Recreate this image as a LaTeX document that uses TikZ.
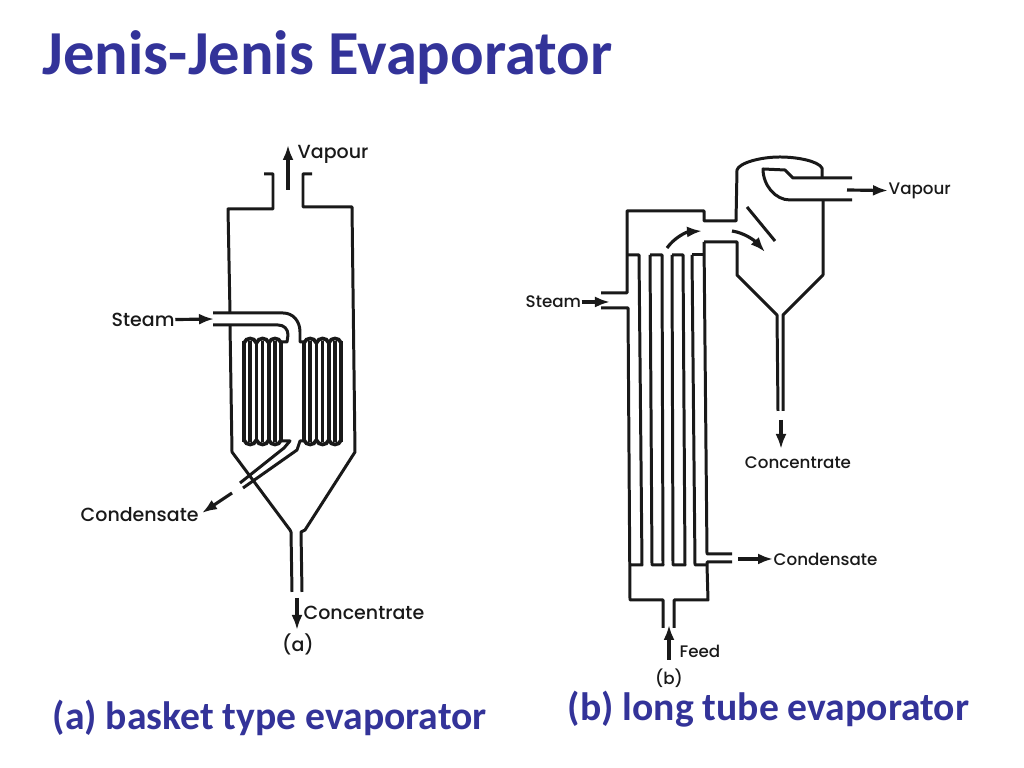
\documentclass[tikz,border=0pt]{standalone}
\usepackage{fontspec}
\setmainfont{Carlito}
\newfontfamily\labelfont{Poppins Medium}
\usepackage{xcolor}
\usetikzlibrary{calc, positioning, arrows.meta}
\definecolor{slideblue}{RGB}{51,51,153}
\definecolor{plantblack}{RGB}{25,25,25}
\tikzset{
    wallline/.style={line width=0.85pt, draw=plantblack, line join=round},
    coilline/.style={line width=1.05pt, draw=plantblack},
    flowarrow/.style={-{Latex[length=1.5mm,width=1.1mm]}, line width=0.9pt, draw=plantblack},
    partlabel/.style={font=\labelfont\fontsize{5.4}{7}\selectfont, text=plantblack, inner sep=0pt},
    smalllabel/.style={font=\labelfont\fontsize{4.75}{6}\selectfont, text=plantblack, inner sep=0pt},
    slidetitle/.style={font=\bfseries\fontsize{17.8}{20}\selectfont, text=slideblue, inner sep=0pt, anchor=west},
    slidecaption/.style={font=\bfseries\fontsize{11.27}{13}\selectfont, text=slideblue, inner sep=0pt, anchor=west}
}
\begin{document}
\begin{tikzpicture}[x=0.01cm,y=-0.01cm]
    \useasboundingbox (0,0) rectangle (1024,768);
    \node[slidetitle] (title) at (42,57) {Jenis-Jenis Evaporator};
    \node[slidecaption] (capa) at (52,717.5) {(a) basket type evaporator};
    \node[slidecaption] (capb) at (567,709.5) {(b) long tube evaporator};

    % basket type
    \draw[wallline] (264,174)--(273,174)--(273,209)--(228,209)--(230,313);
    \draw[wallline] (230,325)--(232,452)--(290,530)--(291,532)--(292,592);
    \draw[wallline] (312,174)--(303,174)--(303,207)--(352,207)--(355,452)--(305,530)--(301,532)--(302,592);
    \draw[wallline] (213,313)--(283,313) .. controls (293,313) and (300,321) .. (300,332)--(300,342)--(305,342);
    \draw[wallline] (213,325)--(278,325) .. controls (284,325) and (288,329) .. (288,335)--(287,342)--(281,342);
    \draw[wallline] (282,441)--(290,441)--(284,448)--(240,483);
    \draw[wallline] (305,441)--(300,441)--(297,450)--(243,488);
    \foreach \bank in {243,303} {
        \foreach \tube in {0,...,6}
            \draw[coilline] ({\bank+1+\tube*6.2},341)--({\bank+1+\tube*6.2},442);
        \foreach \loopno in {0,1,2} {
            \draw[coilline] ({\bank+1+\loopno*12.4},343) .. controls ({\bank+3+\loopno*12.4},337) and ({\bank+11.4+\loopno*12.4},337) .. ({\bank+13.4+\loopno*12.4},343);
            \draw[coilline] ({\bank+1+\loopno*12.4},440) .. controls ({\bank+3+\loopno*12.4},446) and ({\bank+11.4+\loopno*12.4},446) .. ({\bank+13.4+\loopno*12.4},440);
        }
    }

    \node[partlabel, anchor=west] (vapa) at (297,154) {Vapour};
    \node[partlabel, anchor=west] (steama) at (111,320) {Steam};
    \node[partlabel, anchor=west] (conda) at (80,515) {Condensate};
    \node[partlabel, anchor=west] (conca) at (303,613) {Concentrate};
    \node[partlabel] (marka) at (298,644) {(a)};
    \coordinate (vapatail) at (288,190);
    \coordinate (vapatip) at (288,145);
    \coordinate (steamatip) at (214,319);
    \coordinate (condatail) at (232,493);
    \coordinate (condatip) at (202,513);
    \coordinate (concatail) at (297,598);
    \coordinate (concatip) at (297,630);
    \draw[flowarrow] (vapatail)--(vapatip);
    \draw[flowarrow] (steama)--(steamatip);
    \draw[flowarrow] (condatail)--(condatip);
    \draw[flowarrow] (concatail)--(concatip);

    % long tube
    \draw[wallline] (601,293)--(627,293)--(627,211)--(704,211)--(704,221)--(736,221)--(737,170) .. controls (739,163) and (760,157) .. (780,157) .. controls (797,157) and (818,161) .. (822,168)--(822,178);
    \draw[wallline] (852,178)--(793,178)--(785,170)--(763,169) .. controls (763,185) and (775,200) .. (790,200)--(852,200);
    \draw[wallline] (823,200)--(823,275)--(783,315)--(783,411);
    \draw[wallline] (704,242)--(737,242)--(737,275)--(777,315)--(778,411);
    \draw[wallline] (747,207)--(775,241);
    \draw[wallline] (601,308)--(628,308)--(630,600)--(663,600)--(663,628);
    \draw[wallline] (674,628)--(674,600)--(708,600)--(707,565)--(707,562)--(732,562);
    \draw[wallline] (732,554)--(707,554)--(704,242);
    \draw[wallline] (627,255)--(639,255)--(642,565)--(630,565);
    \draw[wallline] (650,255)--(662,255)--(663,565)--(652,565)--(650,255);
    \draw[wallline] (672,255)--(683,255)--(685,565)--(673,565)--(672,255);
    \draw[wallline] (692,255)--(704,255);
    \draw[wallline] (692,255)--(695,565)--(707,565);

    \node[smalllabel, anchor=west] (vapb) at (888,191) {Vapour};
    \node[smalllabel, anchor=west] (steamb) at (525,302) {Steam};
    \node[smalllabel] (concb) at (798,463) {Concentrate};
    \node[smalllabel, anchor=west] (condb) at (773,559) {Condensate};
    \node[smalllabel, anchor=west] (feedb) at (679,651) {Feed};
    \node[smalllabel] (markb) at (669,678) {(b)};
    \coordinate (vapbtail) at (847,190);
    \coordinate (steambtip) at (610,302);
    \coordinate (concbtail) at (781,420);
    \coordinate (concbtip) at (781,449);
    \coordinate (condbtail) at (738,559);
    \coordinate (feedbtail) at (669,660);
    \coordinate (feedbtip) at (669,625);
    \coordinate (risestart) at (667,248);
    \coordinate (riseend) at (702,231);
    \coordinate (fallstart) at (732,231);
    \coordinate (fallend) at (765,252);
    \draw[flowarrow] (vapbtail)--(vapb);
    \draw[flowarrow] (steamb)--(steambtip);
    \draw[flowarrow] (concbtail)--(concbtip);
    \draw[flowarrow] (condbtail)--(condb);
    \draw[flowarrow] (feedbtail)--(feedbtip);
    \draw[flowarrow] (risestart) .. controls (674,238) and (686,232) .. (riseend);
    \draw[flowarrow] (fallstart) .. controls (745,233) and (755,241) .. (fallend);
\end{tikzpicture}
\end{document}
